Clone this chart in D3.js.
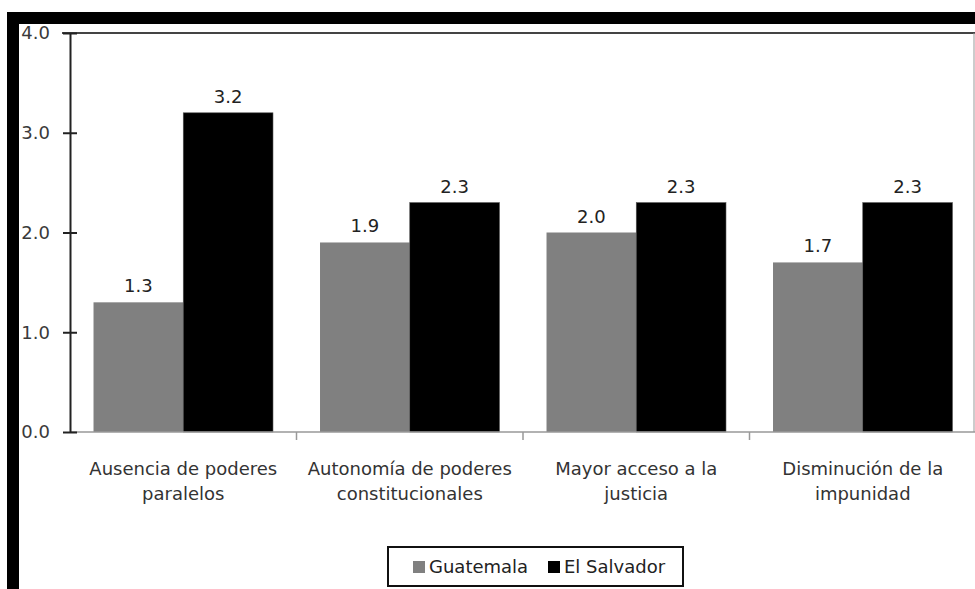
<!DOCTYPE html>
<html><head><meta charset="utf-8">
<script src="https://cdn.jsdelivr.net/npm/d3@7"></script>
<style>body{margin:0;background:#fff}svg{display:block}</style>
</head><body>
<svg id="c" width="975" height="589"></svg>
<script>
const categories = [["Ausencia de poderes","paralelos"],["Autonomía de poderes","constitucionales"],["Mayor acceso a la","justicia"],["Disminución de la","impunidad"]];
const seriesNames = ["Guatemala","El Salvador"];
const guatemala = [1.3, 1.9, 2.0, 1.7];
const elSalvador = [3.2, 2.3, 2.3, 2.3];
const yTicks = [0, 1, 2, 3, 4];
const colors = ["#808080", "#000000"];

const svg = d3.select("#c");
const font = "DejaVu Sans, Verdana, sans-serif";
const L = 70, R = 975, T = 33, B = 432;

// frame bands
svg.append("rect").attr("x",7).attr("y",12).attr("width",968).attr("height",12).attr("fill","#000");
svg.append("rect").attr("x",7).attr("y",12).attr("width",12).attr("height",577).attr("fill","#000");

const x0 = d3.scaleBand().domain(d3.range(categories.length)).range([L, R+1]).paddingInner(0).paddingOuter(0);
const x1 = d3.scaleBand().domain(seriesNames).range([0, x0.bandwidth()]).paddingOuter(0.262).paddingInner(0);
const y = d3.scaleLinear().domain([0,4]).range([B, T]);

// top and right border
svg.append("line").attr("x1",62).attr("x2",R).attr("y1",T).attr("y2",T).attr("stroke","#444").attr("stroke-width",2);
svg.append("line").attr("x1",R-1).attr("x2",R-1).attr("y1",T).attr("y2",B).attr("stroke","#999").attr("stroke-width",1);

const data = [guatemala, elSalvador];
categories.forEach((c,i)=>{
  seriesNames.forEach((s,j)=>{
    const v = data[j][i];
    svg.append("rect")
      .attr("x", x0(i)+x1(s)).attr("y", y(v))
      .attr("width", x1.bandwidth()).attr("height", y(0)-y(v))
      .attr("fill", colors[j]).attr("stroke", j===1 ? "#555" : "none").attr("stroke-width", 0.6);
    svg.append("text")
      .attr("x", x0(i)+x1(s)+x1.bandwidth()/2).attr("y", y(v)-10)
      .attr("text-anchor","middle").attr("font-family",font).attr("font-size",18).attr("fill","#222")
      .text(v.toFixed(1));
  });
});

// x axis
const xAxis = svg.append("g").attr("transform",`translate(0,${B})`);
xAxis.append("line").attr("x1",L).attr("x2",R).attr("stroke","#999").attr("stroke-width",1.5);
d3.range(1, categories.length).forEach(i=>{
  const xx = x0(i);
  xAxis.append("line").attr("x1",xx).attr("x2",xx).attr("y1",0).attr("y2",8).attr("stroke","#999").attr("stroke-width",1.5);
});
categories.forEach((c,i)=>{
  const t = svg.append("text").attr("text-anchor","middle").attr("font-family",font).attr("font-size",18).attr("fill","#333");
  c.forEach((line,k)=>{
    t.append("tspan").attr("x", x0(i)+x0.bandwidth()/2).attr("y", 475+k*25).text(line);
  });
});

// y axis
const yAxis = d3.axisLeft(y).tickValues(yTicks).tickFormat(d3.format(".1f")).tickSize(7).tickSizeOuter(0);
const gy = svg.append("g").attr("transform",`translate(${L},0)`).call(yAxis);
gy.select(".domain").attr("stroke","#222").attr("stroke-width",2);
gy.selectAll(".tick line").attr("stroke","#222").attr("stroke-width",2).attr("x1",7);
gy.selectAll(".tick text").attr("font-family",font).attr("font-size",18).attr("fill","#3a3a3a").attr("x",-20);

// legend
const lg = svg.append("g");
lg.append("rect").attr("x",388).attr("y",547).attr("width",295).attr("height",39).attr("fill","#fff").attr("stroke","#111").attr("stroke-width",2);
const lx = [413, 548];
seriesNames.forEach((s,j)=>{
  lg.append("rect").attr("x",lx[j]).attr("y",561).attr("width",12).attr("height",12).attr("fill",colors[j]);
  lg.append("text").attr("x",lx[j]+16).attr("y",573).attr("font-family",font).attr("font-size",18).attr("fill","#222").text(s);
});
</script>
</body></html>
